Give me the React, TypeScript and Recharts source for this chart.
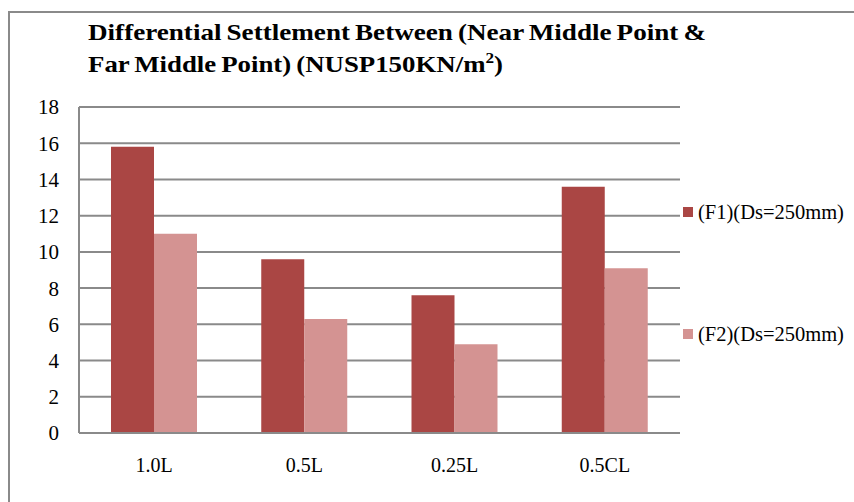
import React from "react";
import { BarChart, Bar, XAxis, YAxis, CartesianGrid, Legend } from "recharts";

const categories = ["1.0L", "0.5L", "0.25L", "0.5CL"];
const f1Values = [15.8, 9.6, 7.6, 13.6];
const f2Values = [11.0, 6.3, 4.9, 9.1];
const yTicks = [0, 2, 4, 6, 8, 10, 12, 14, 16, 18];
const seriesNames = ["(F1)(Ds=250mm)", "(F2)(Ds=250mm)"];
const seriesColors = ["#AA4644", "#D49392"];

const data = categories.map((c, i) => ({ name: c, f1: f1Values[i], f2: f2Values[i] }));

const FONT = "'Liberation Serif', 'Times New Roman', serif";

const LegendContent = (props: any) => {
  const payload = props.payload || [];
  return (
    <div style={{ fontFamily: FONT, fontSize: 20.5, color: "#000" }}>
      {payload.map((p: any, i: number) => (
        <div
          key={i}
          style={{
            display: "flex",
            alignItems: "center",
            height: 24,
            marginTop: i === 0 ? 0 : 98,
            whiteSpace: "nowrap",
          }}
        >
          <span style={{ display: "inline-block", width: 10, height: 10, background: p.color, marginRight: 5 }} />
          <span>{p.value}</span>
        </div>
      ))}
    </div>
  );
};

export default function App() {
  return (
    <div style={{ position: "absolute", left: 0, top: 0, width: 854, height: 502, overflow: "hidden", background: "#fff" }}>
      <div
        style={{
          position: "absolute",
          left: 8,
          top: 11,
          width: 900,
          height: 600,
          borderLeft: "2px solid #8a8a8a",
          borderTop: "2px solid #8a8a8a",
        }}
      />
      <svg style={{ position: "absolute", left: 0, top: 0 }} width={854} height={100}>
        <text x={88} y={40} fontFamily={FONT} fontWeight="bold" fontSize={23.5} wordSpacing={-1.5} textLength={618} lengthAdjust="spacingAndGlyphs" fill="#000">
          Differential Settlement Between (Near Middle Point &amp;
        </text>
        <text x={88} y={72} fontFamily={FONT} fontWeight="bold" fontSize={23.5} wordSpacing={-1.5} textLength={415} lengthAdjust="spacingAndGlyphs" fill="#000">
          Far Middle Point) (NUSP150KN/m<tspan fontSize={15} dy={-9}>2</tspan><tspan dy={9}>)</tspan>
        </text>
      </svg>
      <div style={{ position: "absolute", left: 0, top: 0 }}>
        <BarChart
          width={854}
          height={502}
          data={data}
          margin={{ top: 107, right: 4, bottom: 39, left: 39 }}
          barCategoryGap="21.3%"
          barGap={0}
        >
          <CartesianGrid vertical={false} stroke="#8a8a8a" strokeWidth={2} />
          <XAxis
            dataKey="name"
            height={30}
            axisLine={{ stroke: "#8a8a8a", strokeWidth: 2 }}
            tickLine={false}
            tickSize={6}
            tickMargin={19}
            tick={{ fill: "#000", fontFamily: FONT, fontSize: 20 }}
          />
          <YAxis
            width={40}
            domain={[0, 18]}
            ticks={yTicks}
            interval={0}
            axisLine={{ stroke: "#8a8a8a", strokeWidth: 2 }}
            tickLine={false}
            tickSize={6}
            tickMargin={14}
            tick={{ fill: "#000", fontFamily: FONT, fontSize: 21 }}
          />
          <Legend
            layout="vertical"
            align="right"
            verticalAlign="top"
            content={<LegendContent />}
            wrapperStyle={{ position: "absolute", left: 683, top: 200, width: 170 }}
          />
          <Bar dataKey="f1" name={seriesNames[0]} fill={seriesColors[0]} isAnimationActive={false} />
          <Bar dataKey="f2" name={seriesNames[1]} fill={seriesColors[1]} isAnimationActive={false} />
        </BarChart>
      </div>
    </div>
  );
}
